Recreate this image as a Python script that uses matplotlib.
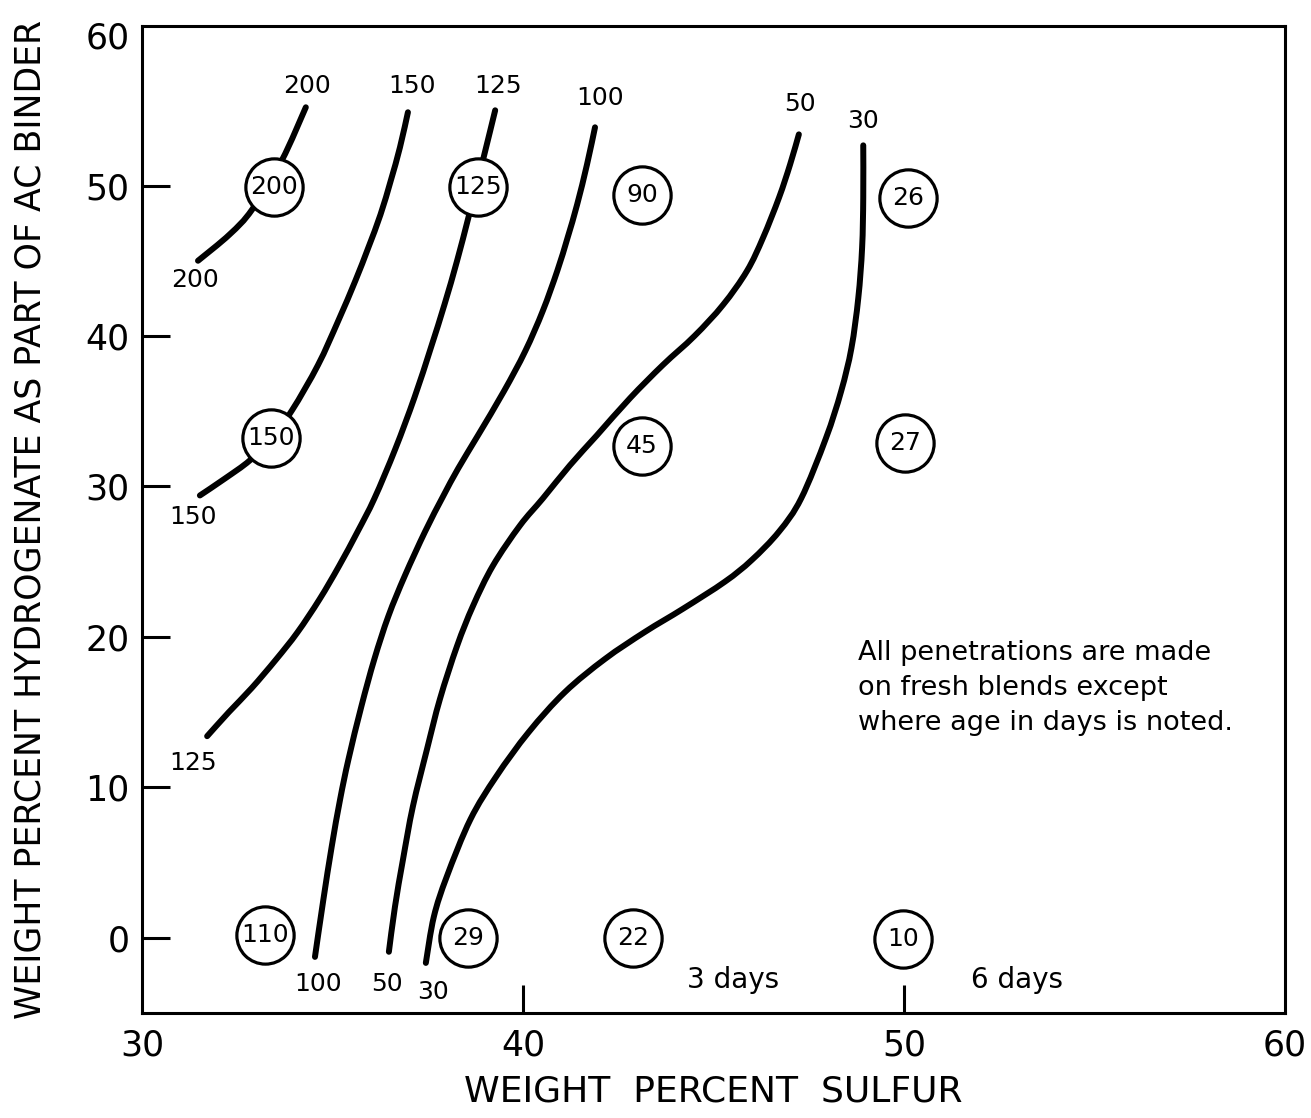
import numpy as np
import matplotlib
matplotlib.use("Agg")
import matplotlib.pyplot as plt
from matplotlib.path import Path
from matplotlib.patches import PathPatch

# penetration isolines: weight % sulfur (x) vs weight % hydrogenate (y)
pen_200_x = [31.47, 32.30, 32.89, 33.67, 34.30]
pen_200_y = [45.0, 46.75, 48.4, 51.67, 55.2]

pen_150_x = [31.52, 32.18, 32.83, 33.39, 33.94, 34.62, 35.15, 35.60, 35.94, 36.26, 36.53, 36.77, 36.98]
pen_150_y = [29.4, 30.53, 31.73, 33.2, 35.07, 38.07, 41.0, 43.67, 45.87, 48.07, 50.33, 52.53, 54.87]

pen_125_x = [31.71, 32.28, 32.88, 33.52, 34.08, 34.66, 35.17, 35.66, 36.10, 36.65, 37.15,
             37.58, 37.94, 38.27, 38.58, 38.95, 39.27]
pen_125_y = [13.4, 15.0, 16.6, 18.5, 20.3, 22.5, 24.7, 27.0, 29.2, 32.5, 35.9,
             39.2, 42.1, 45.0, 48.0, 51.7, 55.0]

pen_100_x = [34.54, 34.76, 34.98, 35.20, 35.42, 35.76, 36.10, 36.47, 36.90, 37.43, 37.90,
             38.30, 38.82, 39.50, 40.06, 40.52, 40.90, 41.17, 41.42, 41.68, 41.89]
pen_100_y = [-1.27, 2.53, 6.07, 9.2, 11.87, 15.4, 18.53, 21.4, 24.07, 27.0, 29.33,
             31.2, 33.4, 36.33, 39.0, 41.67, 44.33, 46.53, 48.73, 51.4, 53.87]

pen_50_x = [36.48, 36.64, 36.85, 37.11, 37.48, 37.82, 38.27, 38.69, 39.21, 39.92, 40.52,
            41.23, 41.94, 42.81, 43.67, 44.50, 45.25, 45.88, 46.30, 46.72, 47.01, 47.24]
pen_50_y = [-0.93, 2.07, 5.2, 8.73, 12.53, 15.87, 19.4, 22.07, 24.73, 27.4, 29.2,
            31.4, 33.4, 35.87, 38.07, 40.0, 42.07, 44.33, 46.53, 49.2, 51.4, 53.4]

pen_30_x = [37.45, 37.66, 38.00, 38.62, 39.30, 40.15, 41.10, 42.15, 43.20, 44.20, 45.30,
            46.00, 46.72, 47.30, 47.95, 48.35, 48.62, 48.80, 48.90, 48.93, 48.93]
pen_30_y = [-1.67, 1.4, 4.07, 7.87, 10.73, 13.67, 16.33, 18.53, 20.33, 21.87, 23.67,
            25.1, 27.0, 29.2, 33.2, 36.33, 39.2, 42.53, 45.87, 49.2, 52.67]

# measured penetrations (circled values)
pt_sulfur = [33.46, 38.82, 43.12, 50.10, 33.39, 43.12, 50.03, 33.23, 38.56, 42.89, 49.97]
pt_hydro = [49.9, 49.9, 49.4, 49.2, 33.2, 32.7, 32.9, 0.2, 0.0, 0.0, -0.1]
pt_pen = ["200", "125", "90", "26", "150", "45", "27", "110", "29", "22", "10"]

curves = [
    (pen_200_x, pen_200_y, "200"),
    (pen_150_x, pen_150_y, "150"),
    (pen_125_x, pen_125_y, "125"),
    (pen_100_x, pen_100_y, "100"),
    (pen_50_x, pen_50_y, "50"),
    (pen_30_x, pen_30_y, "30"),
]

# where the isoline values are written at the line ends
end_labels = {
    "200": [(34.33, 56.6), (31.39, 43.7)],
    "150": [(37.09, 56.6), (31.34, 28.0)],
    "125": [(39.34, 56.6), (31.34, 11.6)],
    "100": [(42.02, 55.8), (34.62, -3.1)],
    "50": [(47.27, 55.4), (36.43, -3.1)],
    "30": [(48.92, 54.3), (37.64, -3.6)],
}


def smooth_path(xs, ys):
    # Catmull-Rom through the points, drawn as cubic Bezier segments
    pts = np.column_stack([xs, ys])
    n = len(pts)
    verts = [pts[0]]
    codes = [Path.MOVETO]
    for i in range(n - 1):
        p0 = pts[i - 1] if i > 0 else pts[i]
        p1 = pts[i]
        p2 = pts[i + 1]
        p3 = pts[i + 2] if i + 2 < n else pts[i + 1]
        verts += [p1 + (p2 - p0) / 6, p2 - (p3 - p1) / 6, p2]
        codes += [Path.CURVE4] * 3
    return Path(verts, codes)


plt.rcParams["font.family"] = ["DejaVu Sans"]

fig = plt.figure(figsize=(13.11, 11.18), dpi=100)
ax = fig.add_axes([0.1083, 0.0939, 0.8719, 0.8828])

for xs, ys, name in curves:
    ax.add_patch(PathPatch(smooth_path(xs, ys), fill=False, edgecolor="black",
                           lw=4.3, capstyle="round", joinstyle="round", zorder=2))
    for lx, ly in end_labels[name]:
        ax.text(lx, ly, name, fontsize=18, ha="center", va="center", zorder=4)

ax.scatter(pt_sulfur, pt_hydro, s=1700, facecolor="white", edgecolor="black",
           linewidths=2.3, zorder=3)
for sx, hy, p in zip(pt_sulfur, pt_hydro, pt_pen):
    ax.text(sx, hy, p, fontsize=18, ha="center", va="center", zorder=4)

ax.text(45.5, -2.8, "3 days", fontsize=20, ha="center", va="center")
ax.text(52.97, -2.8, "6 days", fontsize=20, ha="center", va="center")

ax.text(48.8, 16.6,
        "All penetrations are made\non fresh blends except\nwhere age in days is noted.",
        fontsize=19.5, ha="left", va="center", linespacing=1.45)

ax.set_xlim(30, 60)
ax.set_ylim(-5, 60.6)
ax.set_xticks([30, 40, 50, 60])
ax.set_yticks([0, 10, 20, 30, 40, 50, 60])
ax.tick_params(direction="in", length=20, width=2.2, labelsize=25, pad=9)
ax.tick_params(axis="x", pad=11)
ax.yaxis.get_major_ticks()[-1].tick1line.set_visible(False)
for t in (ax.xaxis.get_major_ticks()[0], ax.xaxis.get_major_ticks()[-1]):
    t.tick1line.set_visible(False)
for sp in ax.spines.values():
    sp.set_linewidth(2.2)

ax.set_xlabel("WEIGHT  PERCENT  SULFUR", fontsize=26, labelpad=9)
ax.set_ylabel("WEIGHT PERCENT HYDROGENATE AS PART OF AC BINDER", fontsize=25, labelpad=27)

fig.savefig("out.png", dpi=100)
